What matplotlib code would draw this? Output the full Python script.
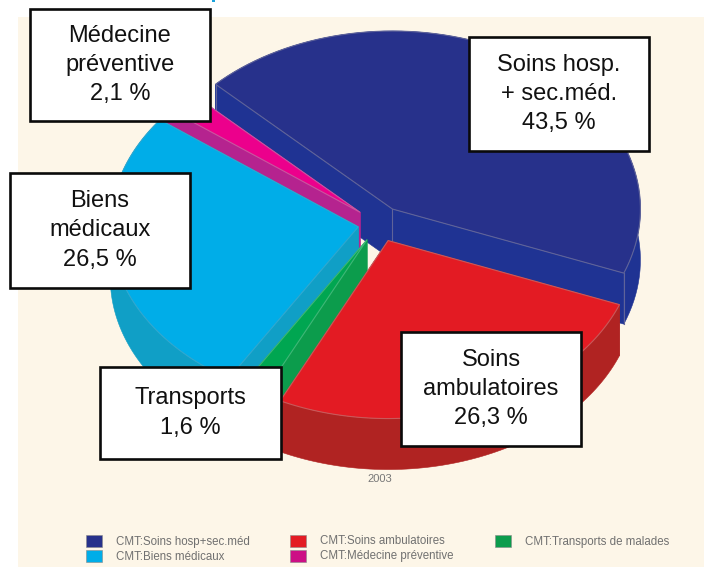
"""Dépense de santé 2003: exploded 3D pie with boxed labels."""

import matplotlib

matplotlib.use("Agg")

import matplotlib.pyplot as plt  # noqa: E402
import numpy as np  # noqa: E402
from matplotlib.patches import Polygon, Rectangle  # noqa: E402

plt.rcParams["font.family"] = ["Liberation Sans", "DejaVu Sans"]

# clockwise from the start angle
names = ["Soins hosp.\n+ sec.méd.", "Soins\nambulatoires", "Transports",
         "Biens\nmédicaux", "Médecine\npréventive"]
shares = [43.5, 26.3, 1.6, 26.5, 2.1]
explode = [0.10, 0.10, 0.10, 0.085, 0.10]
top_colors = ["#27318B", "#E31B23", "#00A651", "#00ADE8", "#EC008C"]
wall_colors = ["#1F3393", "#B02322", "#0C9C4C", "#109FC6", "#B5238F"]
line_colors = ["#5F6399", "#C9595A", "#3FB777", "#2FA7CF", "#C9569F"]
draw_order = [0, 4, 3, 2, 1]
vertical_edges = [True, False, False, False, False]

legend_labels = ["CMT:Soins hosp+sec.méd", "CMT:Biens médicaux",
                 "CMT:Soins ambulatoires", "CMT:Médecine préventive",
                 "CMT:Transports de malades"]
legend_colors = ["#27318B", "#00ADE8", "#E31B23", "#CC0F85", "#0C9C4C"]
legend_x = [86, 86, 290, 290, 495]
legend_y = [535, 550, 535, 550, 535]

# label boxes: left, top, right, bottom in pixels
boxes = [(469, 37, 649, 151), (401, 332, 581, 446), (100, 367, 281, 459),
         (10, 173, 190, 288), (30, 9, 210, 121)]

CX, CY = 379, 224
RX, RY = 248, 178
DEPTH = 51
START = 135.5


def project(u, v, offset=(0.0, 0.0), drop=0.0):
    return np.column_stack([CX + RX * (u + offset[0]),
                            CY - RY * (v + offset[1]) + drop])


def draw_slice(ax, a0, a1, off, top, wall, line, verticals):
    angles = np.radians(np.linspace(a0, a1, 80))
    u = np.concatenate([[0], np.cos(angles), [0]])
    v = np.concatenate([[0], np.sin(angles), [0]])
    upper = project(u, v, off)
    lower = project(u, v, off, DEPTH)
    # walls: the two cut faces, then the outer rim as one polygon
    for i in (0, len(upper) - 2):
        quad = [upper[i], upper[i + 1], lower[i + 1], lower[i]]
        ax.add_patch(Polygon(quad, closed=True, fc=wall, ec=wall, lw=0.4))
    rim = np.vstack([upper[1:-1], lower[1:-1][::-1]])
    ax.add_patch(Polygon(rim, closed=True, fc=wall, ec=wall, lw=0.4))
    ax.add_patch(Polygon(upper[:-1], closed=True, fc=top, ec=line, lw=0.8))
    if verticals:
        for p, q in [(upper[0], lower[0]), (upper[1], lower[1]),
                     (upper[-2], lower[-2])]:
            # same zorder as the patches, so later slices cover these lines
            ax.plot([p[0], q[0]], [p[1], q[1]], color=line, lw=0.8, zorder=1)


fig = plt.figure(figsize=(7.11, 5.67), dpi=100, facecolor="white")
ax = fig.add_axes([0, 0, 1, 1])
ax.set_xlim(0, 711)
ax.set_ylim(567, 0)
ax.axis("off")

ax.add_patch(Rectangle((18, 17), 686, 550, fc="#FDF6E8", ec="none"))
ax.add_patch(Rectangle((212, 0), 3, 2, fc="#1BA3DC", ec="none"))

sweeps = np.array(shares) / sum(shares) * 360.0
ends = START - np.cumsum(sweeps)
starts = ends + sweeps
for i in draw_order:
    mid = np.radians((starts[i] + ends[i]) / 2)
    off = (explode[i] * np.cos(mid), explode[i] * np.sin(mid))
    draw_slice(ax, starts[i], ends[i], off, top_colors[i], wall_colors[i],
               line_colors[i], vertical_edges[i])

ax.text(380, 479, "2003", fontsize=8, color="#777777",
        ha="center", va="center")

for (x0, y0, x1, y1), name, share in zip(boxes, names, shares):
    ax.add_patch(Rectangle((x0, y0), x1 - x0, y1 - y0,
                           fc="white", ec="#0A0A0A", lw=1.9, zorder=5))
    label = name + "\n" + f"{share:.1f}".replace(".", ",") + " %"
    ax.text((x0 + x1) / 2, (y0 + y1) / 2, label, fontsize=17, color="#111111",
            ha="center", va="center", linespacing=1.42, zorder=6)

for label, color, x, y in zip(legend_labels, legend_colors, legend_x, legend_y):
    ax.add_patch(Rectangle((x, y), 16, 12, fc=color, ec="#8A8A8A", lw=0.4))
    ax.text(x + 30, y + 6.5, label, fontsize=8.3, color="#707070",
            ha="left", va="center")

fig.savefig("out.png", dpi=100)
plt.close(fig)
